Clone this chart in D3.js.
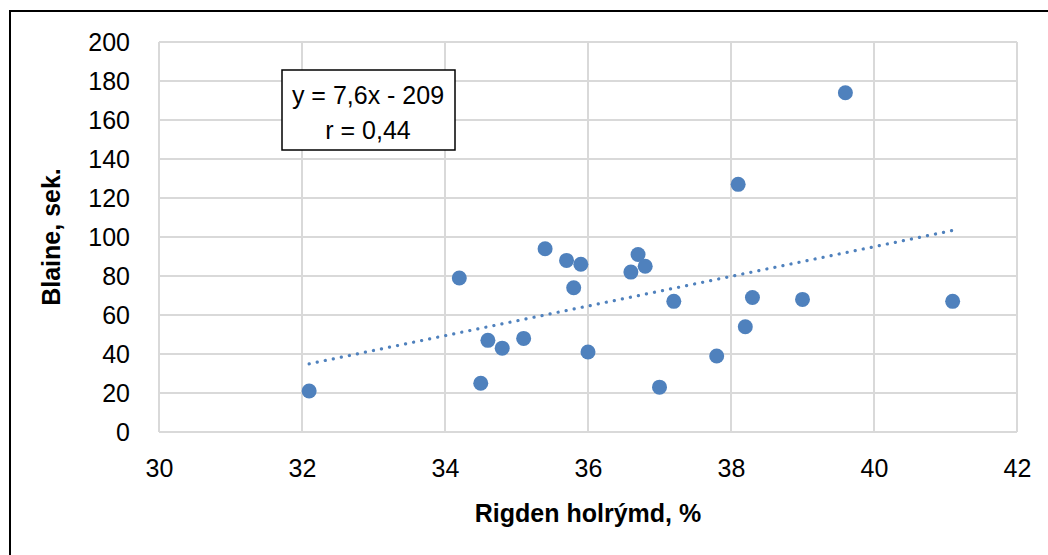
<!DOCTYPE html>
<html>
<head>
    <meta charset="utf-8">
    <title>Blaine vs Rigden</title>
    <script src="https://d3js.org/d3.v7.min.js"></script>
    <style>
        body { margin: 0; background: #ffffff; }
        text { font-family: "Liberation Sans", Arial, sans-serif; fill: #000; }
    </style>
</head>
<body>
<div id="chart"></div>
<script>
    // Data
    var rigden = [32.1, 34.2, 34.5, 34.6, 34.8, 35.1, 35.4, 35.7, 35.8, 35.9, 36.0, 36.6,
                  36.7, 36.8, 37.0, 37.2, 37.8, 38.1, 38.2, 38.3, 39.0, 39.6, 41.1];
    var blaine = [21, 79, 25, 47, 43, 48, 94, 88, 74, 86, 41, 82,
                  91, 85, 23, 67, 39, 127, 54, 69, 68, 174, 67];
    var xTicks = [30, 32, 34, 36, 38, 40, 42];
    var yTicks = [0, 20, 40, 60, 80, 100, 120, 140, 160, 180, 200];
    var slope = 7.6, intercept = -209;
    var eqLines = ["y = 7,6x - 209", "r = 0,44"];

    var W = 1048, H = 555;
    var margin = { top: 42, right: 31, bottom: 123, left: 159 };
    var width = W - margin.left - margin.right;
    var height = H - margin.top - margin.bottom;

    var svg = d3.select("#chart").append("svg")
        .attr("width", W)
        .attr("height", H);

    // outer frame
    svg.append("rect")
        .attr("x", 10).attr("y", 11)
        .attr("width", 1050).attr("height", 600)
        .attr("fill", "none")
        .attr("stroke", "#000")
        .attr("stroke-width", 2);

    var g = svg.append("g")
        .attr("transform", "translate(" + margin.left + "," + margin.top + ")");

    var x = d3.scaleLinear().domain([30, 42]).range([0, width]);
    var y = d3.scaleLinear().domain([0, 200]).range([height, 0]);

    // gridlines
    g.append("g").selectAll("line").data(yTicks).enter().append("line")
        .attr("x1", 0).attr("x2", width)
        .attr("y1", function (d) { return y(d); })
        .attr("y2", function (d) { return y(d); })
        .attr("stroke", "#d9d9d9").attr("stroke-width", 2);
    g.append("g").selectAll("line").data(xTicks).enter().append("line")
        .attr("y1", 0).attr("y2", height)
        .attr("x1", function (d) { return x(d); })
        .attr("x2", function (d) { return x(d); })
        .attr("stroke", "#d9d9d9").attr("stroke-width", 2);

    // axes (labels only)
    var xAxis = g.append("g")
        .attr("transform", "translate(0," + height + ")")
        .call(d3.axisBottom(x).tickValues(xTicks).tickSize(0).tickPadding(27));
    var yAxis = g.append("g")
        .call(d3.axisLeft(y).tickValues(yTicks).tickSize(0).tickPadding(29));
    [xAxis, yAxis].forEach(function (a) {
        a.select(".domain").remove();
        a.selectAll("text")
            .style("font-size", "25px")
            .style("font-family", "'Liberation Sans', Arial, sans-serif");
    });
    xAxis.selectAll("text").attr("dy", "0.72em");

    // trendline
    var xMin = d3.min(rigden), xMax = d3.max(rigden);
    g.append("line")
        .attr("x1", x(xMin)).attr("y1", y(slope * xMin + intercept))
        .attr("x2", x(xMax)).attr("y2", y(slope * xMax + intercept))
        .attr("stroke", "#4f81bd")
        .attr("stroke-width", 3.2)
        .attr("stroke-linecap", "round")
        .attr("stroke-dasharray", "0.1,8.1");

    // points
    g.append("g").selectAll("circle").data(rigden).enter().append("circle")
        .attr("cx", function (d) { return x(d); })
        .attr("cy", function (d, i) { return y(blaine[i]); })
        .attr("r", 7.5)
        .attr("fill", "#4f81bd");

    // equation box
    var box = svg.append("g");
    box.append("rect")
        .attr("x", 282).attr("y", 70)
        .attr("width", 173).attr("height", 80)
        .attr("fill", "#fff")
        .attr("stroke", "#000")
        .attr("stroke-width", 1.5);
    box.selectAll("text").data(eqLines).enter().append("text")
        .attr("x", 368)
        .attr("y", function (d, i) { return 104 + i * 35; })
        .attr("text-anchor", "middle")
        .style("font-size", "25px")
        .text(function (d) { return d; });

    // axis titles
    svg.append("text")
        .attr("x", margin.left + width / 2)
        .attr("y", 522)
        .attr("text-anchor", "middle")
        .style("font-size", "25px")
        .style("font-weight", "bold")
        .text("Rigden holrýmd, %");

    svg.append("text")
        .attr("transform", "translate(60," + (margin.top + height / 2) + ") rotate(-90)")
        .attr("text-anchor", "middle")
        .style("font-size", "25px")
        .style("font-weight", "bold")
        .text("Blaine, sek.");
</script>
</body>
</html>
